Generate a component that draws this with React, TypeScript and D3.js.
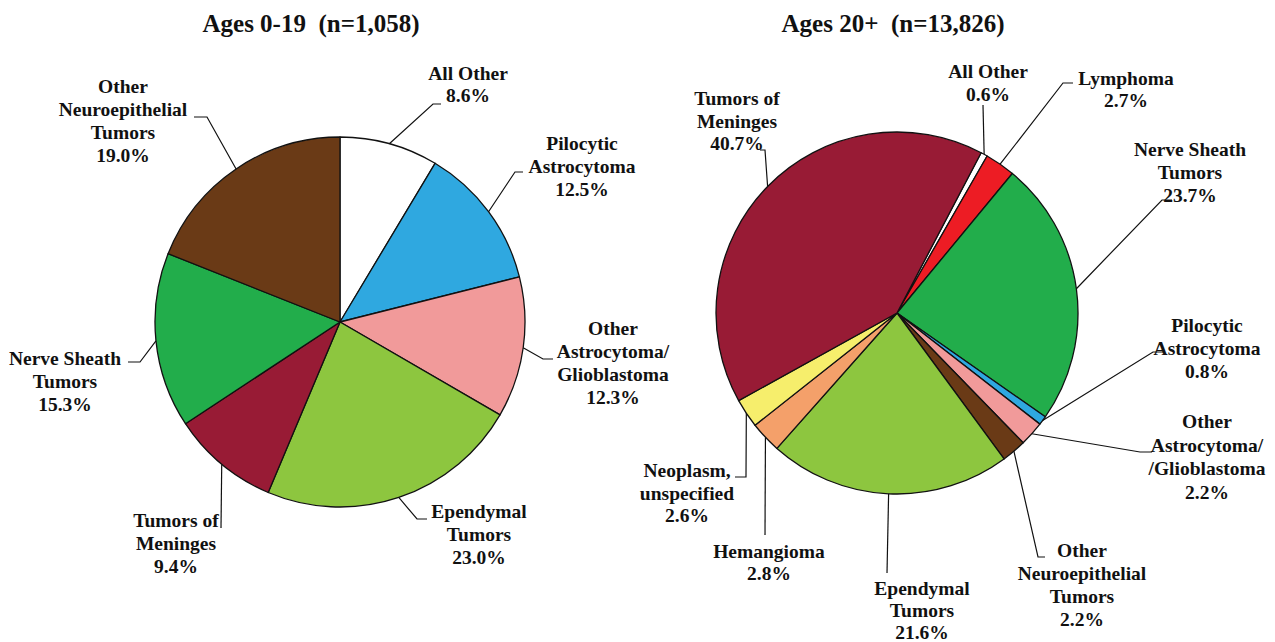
import React from "react";
import * as d3 from "d3";

// ---------- DATA ----------
const leftTitle = "Ages 0-19  (n=1,058)";
const leftCategories = [
  "All Other",
  "Pilocytic Astrocytoma",
  "Other Astrocytoma/Glioblastoma",
  "Ependymal Tumors",
  "Tumors of Meninges",
  "Nerve Sheath Tumors",
  "Other Neuroepithelial Tumors",
];
const leftValues = [8.6, 12.5, 12.3, 23.0, 9.4, 15.3, 19.0];
const leftLabelLines = [
  ["All Other"],
  ["Pilocytic", "Astrocytoma"],
  ["Other", "Astrocytoma/", "Glioblastoma"],
  ["Ependymal", "Tumors"],
  ["Tumors of", "Meninges"],
  ["Nerve Sheath", "Tumors"],
  ["Other", "Neuroepithelial", "Tumors"],
];

const rightTitle = "Ages 20+  (n=13,826)";
const rightCategories = [
  "All Other",
  "Lymphoma",
  "Nerve Sheath Tumors",
  "Pilocytic Astrocytoma",
  "Other Astrocytoma/Glioblastoma",
  "Other Neuroepithelial Tumors",
  "Ependymal Tumors",
  "Hemangioma",
  "Neoplasm, unspecified",
  "Tumors of Meninges",
];
const rightValues = [0.6, 2.7, 23.7, 0.8, 2.2, 2.2, 21.6, 2.8, 2.6, 40.7];
const rightLabelLines = [
  ["All Other"],
  ["Lymphoma"],
  ["Nerve Sheath", "Tumors"],
  ["Pilocytic", "Astrocytoma"],
  ["Other", "Astrocytoma/", "/Glioblastoma"],
  ["Other", "Neuroepithelial", "Tumors"],
  ["Ependymal", "Tumors"],
  ["Hemangioma"],
  ["Neoplasm,", "unspecified"],
  ["Tumors of", "Meninges"],
];

// ---------- STYLE / LAYOUT ----------
const colorOf: Record<string, string> = {
  "All Other": "#ffffff",
  "Pilocytic Astrocytoma": "#2fa8e0",
  "Other Astrocytoma/Glioblastoma": "#f19a9a",
  "Ependymal Tumors": "#8dc63f",
  "Tumors of Meninges": "#981b35",
  "Nerve Sheath Tumors": "#22ad4b",
  "Other Neuroepithelial Tumors": "#6a3a16",
  "Lymphoma": "#ed1c24",
  "Hemangioma": "#f4a06a",
  "Neoplasm, unspecified": "#f6ee6c",
};

const FONT = "'Liberation Serif', 'Times New Roman', serif";

type LabelLayout = { cx: number; y: number; gap: number; elbow: [number, number]; end: [number, number] };

const leftPie = { cx: 340, cy: 322, r: 185, start: 0, titleX: 311, titleY: 32 };
const leftLayout: LabelLayout[] = [
  { cx: 468, y: 80, gap: 22, elbow: [433, 104], end: [441, 104] },
  { cx: 582, y: 150, gap: 23, elbow: [515, 172], end: [523, 172] },
  { cx: 613, y: 335, gap: 23, elbow: [543, 359], end: [553, 359] },
  { cx: 479, y: 518, gap: 23, elbow: [417, 519], end: [427, 519] },
  { cx: 176, y: 527, gap: 23, elbow: [221, 528], end: [221, 528] },
  { cx: 65, y: 365, gap: 23, elbow: [140, 362], end: [128, 362] },
  { cx: 123, y: 93, gap: 23, elbow: [207, 117], end: [194, 117] },
];

const rightPie = { cx: 897, cy: 313, r: 181, start: (27.7 * Math.PI) / 180, titleX: 893, titleY: 32 };
const rightLayout: LabelLayout[] = [
  { cx: 988, y: 78, gap: 23, elbow: [983, 105], end: [983, 105] },
  { cx: 1126, y: 85, gap: 22, elbow: [1063, 83], end: [1073, 83] },
  { cx: 1190, y: 156, gap: 23, elbow: [1162, 200], end: [1172, 200] },
  { cx: 1207, y: 332, gap: 23, elbow: [1153, 352], end: [1163, 352] },
  { cx: 1207, y: 428, gap: 23.5, elbow: [1140, 452], end: [1152, 452] },
  { cx: 1082, y: 557, gap: 23, elbow: [1038, 557], end: [1045, 557] },
  { cx: 922, y: 595, gap: 22, elbow: [887, 573], end: [887, 573] },
  { cx: 769, y: 558, gap: 22, elbow: [765, 535], end: [765, 535] },
  { cx: 687, y: 477, gap: 22.5, elbow: [746, 477], end: [735, 477] },
  { cx: 737, y: 105, gap: 22.5, elbow: [765, 150], end: [760, 150] },
];

function PieChart({
  title,
  categories,
  values,
  labelLines,
  cfg,
  layout,
}: {
  title: string;
  categories: string[];
  values: number[];
  labelLines: string[][];
  cfg: { cx: number; cy: number; r: number; start: number; titleX: number; titleY: number };
  layout: LabelLayout[];
}) {
  const data = categories.map((c, i) => ({ c, v: values[i], i }));
  const pie = d3
    .pie<{ c: string; v: number; i: number }>()
    .sort(null)
    .value((d) => d.v)
    .startAngle(cfg.start)
    .endAngle(cfg.start + 2 * Math.PI);
  const arcs = pie(data);
  const arc = d3.arc<d3.PieArcDatum<{ c: string; v: number; i: number }>>().innerRadius(0).outerRadius(cfg.r);
  const line = d3.line();

  return (
    <g>
      <text
        x={cfg.titleX}
        y={cfg.titleY}
        textAnchor="middle"
        fontFamily={FONT}
        fontWeight="bold"
        fontSize={25}
        fill="#111"
        style={{ whiteSpace: "pre" }}
      >
        {title}
      </text>
      <g transform={`translate(${cfg.cx},${cfg.cy})`}>
        {arcs.map((a) => (
          <path key={a.data.c} d={arc(a) || ""} fill={colorOf[a.data.c]} stroke="#111" strokeWidth={1.3} strokeLinejoin="round" />
        ))}
      </g>
      {arcs.map((a, k) => {
        const L = layout[k];
        const mid = (a.startAngle + a.endAngle) / 2;
        const ex = cfg.cx + cfg.r * Math.sin(mid);
        const ey = cfg.cy - cfg.r * Math.cos(mid);
        const pts: [number, number][] = [[ex, ey], L.elbow, L.end];
        const lines = [...labelLines[k], `${a.data.v.toFixed(1)}%`];
        return (
          <g key={"lab" + k}>
            <path d={line(pts) || ""} fill="none" stroke="#111" strokeWidth={1.2} />
            <text textAnchor="middle" fontFamily={FONT} fontWeight="bold" fontSize={19.5} fill="#111">
              {lines.map((t, j) => (
                <tspan key={j} x={L.cx} y={L.y + j * L.gap}>
                  {t}
                </tspan>
              ))}
            </text>
          </g>
        );
      })}
    </g>
  );
}

export default function App() {
  return (
    <svg
      width={1275}
      height={642}
      style={{ position: "absolute", left: 0, top: 0, background: "#ffffff" }}
    >
      <rect x={0} y={0} width={1275} height={642} fill="#ffffff" />
      <PieChart
        title={leftTitle}
        categories={leftCategories}
        values={leftValues}
        labelLines={leftLabelLines}
        cfg={leftPie}
        layout={leftLayout}
      />
      <PieChart
        title={rightTitle}
        categories={rightCategories}
        values={rightValues}
        labelLines={rightLabelLines}
        cfg={rightPie}
        layout={rightLayout}
      />
    </svg>
  );
}
